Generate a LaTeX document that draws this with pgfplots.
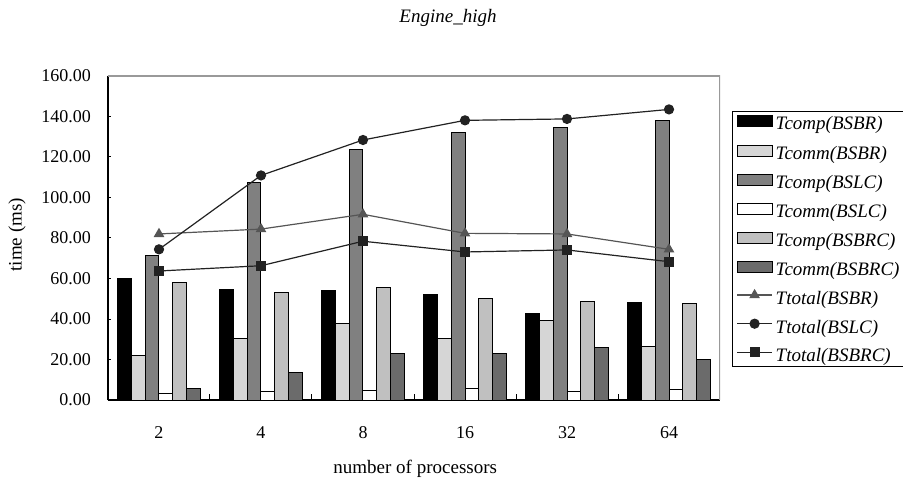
\documentclass[border=0pt]{standalone}
\usepackage{pgfplots}
\pgfplotsset{compat=1.18}
\usepackage{pgfplotstable}
\usepackage{fontspec}
\setmainfont{Liberation Serif}

\definecolor{cA}{HTML}{000000}
\definecolor{cB}{HTML}{D6D6D6}
\definecolor{cC}{HTML}{808080}
\definecolor{cD}{HTML}{FFFFFF}
\definecolor{cE}{HTML}{C0C0C0}
\definecolor{cF}{HTML}{6B6B6B}
\definecolor{lA}{HTML}{555555}
\definecolor{lB}{HTML}{222222}

\pgfplotstableread{
x compR commR compL commL compRC commRC totR totL totRC
0 60.0 22.1 71.6 3.3 58.1 5.6 82.0 74.4 63.7
1 54.5 30.3 107.3 4.0 53.2 13.7 84.4 110.9 66.3
2 54.3 37.9 123.5 4.9 55.5 23.0 91.7 128.4 78.4
3 52.3 30.6 132.3 5.8 50.0 23.2 82.3 138.1 73.1
4 42.8 39.5 134.5 4.1 48.4 26.0 82.0 138.8 74.1
5 48.1 26.3 137.9 5.4 47.9 20.2 74.4 143.5 68.3
}\data

\pgfplotsset{
  mybar/.style n args={2}{ybar, bar width=13.7bp, bar shift=#2, draw=black, line width=1bp, fill=#1,
    legend image code/.code={\draw[draw=black, line width=1bp, fill=#1] (0bp,-3bp) rectangle (35bp,8bp);}},
  myline/.style n args={3}{sharp plot, color=#1, line width=1.2bp, mark=#2, mark size=#3, mark options={solid, fill=#1, draw=#1},
    legend image code/.code={\draw[color=#1, line width=1.2bp] (0bp,3.5bp) -- (35bp,3.5bp);
      \path[fill=#1,draw=#1] plot[mark=#2, mark size=#3] coordinates {(17.5bp,3.5bp)};}},
}

\begin{document}
\begin{tikzpicture}
\begin{axis}[
  name=ax, at={(0,0)}, anchor=south west,
  scale only axis, width=612bp, height=324bp,
  xmin=-0.5, xmax=5.5, ymin=0, ymax=160,
  axis lines=left, axis line style={-, line width=1.2bp, black},
  tick align=inside, major tick length=6bp,
  tick style={draw=black, line width=1bp},
  xtick={0.5,1.5,2.5,3.5,4.5}, xticklabels={},
  extra x ticks={0,1,2,3,4,5}, extra x tick labels={2,4,8,16,32,64},
  extra x tick style={major tick length=0pt},
  ytick=\empty,
  extra y ticks={0,20,40,60,80,100,120,140,160},
  extra y tick style={major tick length=3bp},
  yticklabel style={inner sep=0pt, anchor=east, xshift=-17bp, font=\fontsize{18bp}{20bp}\selectfont},
  xticklabel style={inner sep=0pt, anchor=base, yshift=-38bp, font=\fontsize{18bp}{20bp}\selectfont},
  /pgf/number format/.cd, fixed, fixed zerofill, precision=2, assume math mode=true, /pgfplots/.cd,
  ylabel={time (ms)},
  ylabel style={at={(axis description cs:-0.1487,0.51)}, anchor=center, font=\fontsize{19bp}{21bp}\selectfont},
  xlabel={number of processors},
  xlabel style={at={(axis description cs:0.502,-0.228)}, anchor=base, font=\fontsize{19bp}{21bp}\selectfont},
  title={\textit{Engine\_high}},
  title style={at={(axis description cs:0.5556,1.16)}, anchor=center, font=\fontsize{19bp}{21bp}\selectfont},
  legend cell align=left,
  legend style={at={(axis description cs:1.0196,0.892)}, anchor=north west, draw=black, line width=1bp,
    font=\fontsize{19bp}{21bp}\selectfont\itshape,
    inner xsep=4bp, inner ysep=4bp, row sep=13.6bp, column sep=3bp,
    nodes={inner sep=0pt, text height=13bp, text depth=1bp}},
]
\addplot[mybar={cA}{-34.25bp}] table[x=x,y=compR]{\data};
\addlegendentry{Tcomp(BSBR)}
\addplot[mybar={cB}{-20.55bp}] table[x=x,y=commR]{\data};
\addlegendentry{Tcomm(BSBR)}
\addplot[mybar={cC}{-6.85bp}] table[x=x,y=compL]{\data};
\addlegendentry{Tcomp(BSLC)}
\addplot[mybar={cD}{6.85bp}] table[x=x,y=commL]{\data};
\addlegendentry{Tcomm(BSLC)}
\addplot[mybar={cE}{20.55bp}] table[x=x,y=compRC]{\data};
\addlegendentry{Tcomp(BSBRC)}
\addplot[mybar={cF}{34.25bp}] table[x=x,y=commRC]{\data};
\addlegendentry{Tcomm(BSBRC)}
\addplot[myline={lA}{triangle*}{5bp}] table[x=x,y=totR]{\data};
\addlegendentry{Ttotal(BSBR)}
\addplot[myline={lB}{*}{4.5bp}] table[x=x,y=totL]{\data};
\addlegendentry{Ttotal(BSLC)}
\addplot[myline={lB}{square*}{4.5bp}] table[x=x,y=totRC]{\data};
\addlegendentry{Ttotal(BSBRC)}
\draw[color=gray!80, line width=1.2bp] (rel axis cs:0,1) -- (rel axis cs:1,1) -- (rel axis cs:1,0);
\end{axis}
\pgfresetboundingbox
\path[use as bounding box] (-108bp,-81bp) rectangle (795bp,400bp);
\end{tikzpicture}
\end{document}
